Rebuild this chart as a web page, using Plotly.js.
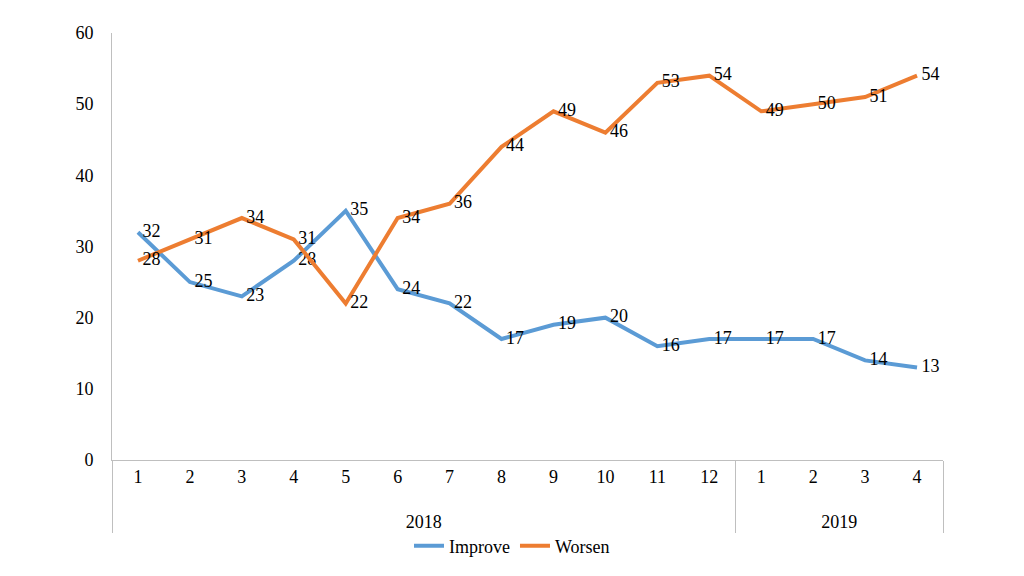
<!DOCTYPE html>
<html><head><meta charset="utf-8">
<script src="https://cdn.plot.ly/plotly-3.0.1.min.js"></script>
<style>body{margin:0;background:#fff}#c{width:1024px;height:576px}
#c text{font-family:"Liberation Serif","Times New Roman",serif !important}</style>
</head><body><div id="c"></div>
<script>
const years = ["2018","2018","2018","2018","2018","2018","2018","2018","2018","2018","2018","2018","2019","2019","2019","2019"];
const months = ["1","2","3","4","5","6","7","8","9","10","11","12","1","2","3","4"];
const improve = [32,25,23,28,35,24,22,17,19,20,16,17,17,17,14,13];
const worsen = [28,31,34,31,22,34,36,44,49,46,53,54,49,50,51,54];
const fam = "Liberation Serif";
const fnt = {family:fam, size:18, color:"#000"};
const yearLab = years.map(y => "<br>" + y);
function tr(name, vals, color){
  return {type:"scatter", mode:"lines+text", name:name, x:[yearLab, months], y:vals,
    text:vals.map(v => " " + v), textposition:"middle right", textfont:fnt,
    line:{color:color, width:4}, cliponaxis:false, hoverinfo:"skip"};
}
const data=[tr("Improve", improve, "#5B9BD5"), tr("Worsen", worsen, "#ED7D31")];
const layout={
  width:1024,height:576,margin:{l:112,r:81,t:33,b:116},
  paper_bgcolor:"#fff",plot_bgcolor:"#fff",font:fnt,showlegend:true,
  legend:{orientation:"h",xref:"container",x:0.5,xanchor:"center",yref:"container",y:0.052,yanchor:"middle",font:fnt,itemwidth:30},
  xaxis:{type:"multicategory",range:[-0.5,15.5],showline:true,linecolor:"#BFBFBF",linewidth:1,automargin:false,
    ticks:"outside",ticklen:6,tickcolor:"rgba(0,0,0,0)",showgrid:false,zeroline:false,showdividers:true,dividercolor:"#BFBFBF",dividerwidth:1,tickfont:fnt},
  yaxis:{range:[0,60],dtick:10,showline:true,linecolor:"#BFBFBF",linewidth:1,showgrid:false,zeroline:false,automargin:false,
    ticks:"",tickfont:fnt,ticklabelstandoff:14}
};
Plotly.newPlot("c",data,layout,{displayModeBar:false,staticPlot:true});
</script></body></html>
